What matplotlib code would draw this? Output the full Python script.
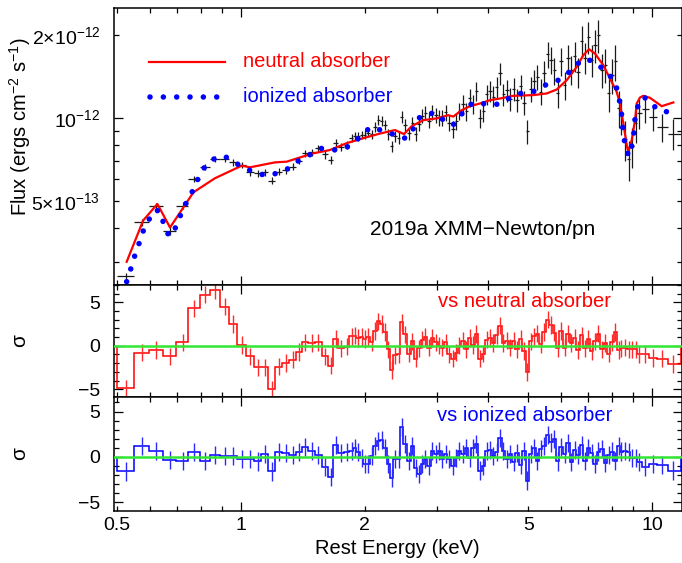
import numpy as np
import matplotlib
matplotlib.use("Agg")
import matplotlib.pyplot as plt
from matplotlib.ticker import LogLocator, MultipleLocator, FuncFormatter

plt.rcParams["font.family"] = ["Liberation Sans", "DejaVu Sans"]
plt.rcParams["mathtext.fontset"] = "custom"
plt.rcParams["mathtext.rm"] = "Liberation Sans"
plt.rcParams["mathtext.it"] = "Liberation Sans:italic"
plt.rcParams["mathtext.bf"] = "Liberation Sans:bold"

# spectrum bins (keV), fluxes in units of 1e-13 erg cm^-2 s^-1
energy = [0.525, 0.575, 0.622, 0.672, 0.721, 0.768, 0.818, 0.866, 0.913, 0.958,
          1.003, 1.052, 1.099, 1.143, 1.187, 1.236, 1.287, 1.336, 1.383, 1.431,
          1.486, 1.543, 1.601, 1.654, 1.701, 1.749, 1.808,
          1.86, 1.89, 1.93, 1.97, 2.00, 2.04, 2.08, 2.12, 2.16, 2.20,
          2.24, 2.28, 2.33, 2.37, 2.42, 2.46, 2.51, 2.56, 2.61, 2.66,
          2.71, 2.76, 2.81, 2.87, 2.92, 2.98, 3.04, 3.09, 3.15, 3.21,
          3.28, 3.34, 3.40, 3.47, 3.53, 3.60, 3.67, 3.74, 3.81, 3.89,
          3.96, 4.04, 4.11, 4.19, 4.27, 4.35, 4.44, 4.52, 4.61, 4.70,
          4.79, 4.88, 4.97, 5.07, 5.16, 5.26, 5.36, 5.47, 5.57, 5.68,
          5.79, 5.90, 6.01, 6.13, 6.24, 6.36, 6.49, 6.61, 6.74, 6.87,
          7.00, 7.13, 7.27, 7.41, 7.55, 7.70, 7.84, 7.99, 8.15, 8.30,
          8.43, 8.60, 8.77, 8.94, 9.12, 9.32, 9.62, 10.06, 10.55, 11.28]

flux = [2.68, 4.19, 4.81, 3.90, 4.81, 6.00, 6.63, 7.10, 7.10, 6.91,
        6.76, 6.36, 6.30, 6.36, 5.93, 6.39, 6.48, 6.66, 7.00, 7.45,
        7.51, 7.77, 7.38, 7.05, 8.10, 7.87, 8.00,
        8.49, 8.58, 8.58, 8.68, 8.72, 8.86, 8.74, 9.32, 9.83, 9.79,
        9.47, 8.74, 7.89, 8.61, 8.50, 10.10, 9.46, 8.80, 9.61, 8.77,
        9.51, 10.20, 10.47, 9.80, 10.53, 10.23, 10.04, 10.00, 10.49, 9.59,
        9.10, 9.77, 10.60, 11.28, 10.59, 11.83, 11.24, 12.51, 10.00, 10.60,
        12.22, 12.58, 11.98, 13.02, 14.56, 12.19, 12.61, 11.77, 12.76, 11.61,
        13.08, 11.38, 8.96, 12.76, 13.59, 14.08, 12.49, 14.59, 17.06, 16.28,
        14.89, 12.35, 16.06, 13.19, 16.47, 14.96, 16.78, 14.74, 19.10, 16.54,
        19.71, 16.28, 18.42, 20.00, 14.95, 15.57, 12.34, 14.32, 16.06, 10.87,
        10.22, 8.39, 7.10, 7.92, 9.59, 10.43, 10.78, 10.08, 9.28, 8.79]

flux_err = [0.07, 0.12, 0.13, 0.12, 0.14, 0.15, 0.16, 0.17, 0.18, 0.18,
            0.18, 0.17, 0.17, 0.17, 0.17, 0.18, 0.19, 0.20, 0.21, 0.23,
            0.24, 0.25, 0.26, 0.26, 0.28, 0.28, 0.28,
            0.28, 0.29, 0.29, 0.29, 0.33, 0.33, 0.33, 0.39, 0.41, 0.41,
            0.39, 0.40, 0.36, 0.39, 0.43, 0.51, 0.47, 0.44, 0.52, 0.48,
            0.52, 0.60, 0.61, 0.57, 0.66, 0.64, 0.67, 0.67, 0.70, 0.64,
            0.65, 0.69, 0.75, 0.85, 0.79, 0.89, 0.89, 0.99, 0.83, 0.88,
            1.02, 1.10, 1.05, 1.14, 1.34, 1.12, 1.16, 1.13, 1.22, 1.11,
            1.31, 1.14, 0.90, 1.33, 1.42, 1.47, 1.35, 1.58, 1.85, 1.83,
            1.68, 1.44, 1.88, 1.54, 1.99, 1.81, 2.10, 1.84, 2.47, 2.14,
            2.63, 2.17, 2.53, 2.75, 2.12, 2.21, 1.80, 2.09, 2.41, 1.63,
            1.53, 1.40, 1.18, 1.32, 1.44, 1.30, 1.17, 1.09, 1.08, 1.10]

# residuals (sigma)
res_neutral = [-4.9, -0.8, -0.5, -1.2, 0.4, 4.3, 5.9, 6.4, 4.5, 2.5,
               0.1, -1.2, -2.5, -2.5, -5.0, -2.4, -2.0, -1.6, -0.7, 0.4,
               0.3, 0.4, -1.2, -2.3, 0.8, -0.3, -0.1,
               1.1, 1.15, 0.9, 1.0, 0.8, 1.0, 0.4, 1.7, 2.8, 2.5,
               1.6, -0.4, -2.8, -1.1, -1.0, 2.7, 1.3, -0.9, 0.5, -1.5,
               -0.3, 0.7, 1.0, -0.2, 0.9, 0.4, 0.0, -0.2, 0.4, -1.0,
               -1.5, -0.8, 0.0, 0.6, -0.4, 0.9, 0.1, 1.35, -1.5, -0.9,
               0.7, 0.9, 0.3, 1.2, 2.3, 0.3, 0.6, -0.2, 0.6, -0.4,
               0.8, -0.6, -3.0, 0.5, 1.1, 1.4, 0.2, 1.6, 3.0, 2.4,
               1.5, -0.3, 1.7, -0.2, 1.4, 0.3, 0.9, -0.5, 1.2, -0.3,
               0.8, -0.6, 0.5, 1.4, -0.4, 0.3, -0.9, 0.4, 1.6, -0.5,
               -0.3, -0.2, -0.4, -0.4, -0.4, -1.0, -1.0, -1.4, -1.5, -2.1]

res_ionized = [-1.6, 1.2, 0.7, -0.3, -0.4, 0.55, -0.4, 0.25, 0.1, 0.1,
               -0.2, -0.2, -0.5, 0.35, -1.6, 0.55, 0.4, 0.2, 0.5, 1.1,
               0.7, 0.25, -1.1, -2.2, 1.3, 0.4, 0.5,
               0.65, 1.0, 0.5, -0.1, -0.8, -0.8, 0.1, 1.2, 1.75, 1.9,
               1.0, -0.8, -2.3, -0.25, -0.25, 3.3, 1.4, -0.45, 1.2, -1.2,
               -1.9, -0.8, -0.25, -1.0, 0.65, 0.3, 0.65, -0.25, 0.3, -0.25,
               -1.0, -0.1, 0.65, 0.3, 1.0, -0.1, 1.0, 1.4, -1.5, -1.0,
               0.65, 0.8, 0.1, 0.5, 2.1, 0.65, -0.25, 0.3, -0.6, 0.4,
               -0.9, 0.7, -2.6, 0.3, 1.0, -0.4, 0.9, 1.2, 2.4, 1.6,
               2.0, -0.5, 1.1, 0.3, 1.5, -0.6, 0.8, 0.2, 1.3, -0.4,
               1.0, 0.4, -0.8, 0.6, 0.9, -0.7, 0.2, 0.6, -0.4, 1.2,
               0.6, 0.65, 0.5, -0.1, -0.1, -0.6, -1.1, -0.8, -0.9, -1.5]

# model curves
neutral_e = [0.527, 0.578, 0.626, 0.672, 0.766, 0.864, 1.004, 1.052, 1.210, 1.292,
             1.392, 1.499, 1.646, 1.807, 1.984, 2.179, 2.370, 2.492, 2.602, 2.777,
             2.994, 3.194, 3.285, 3.443, 3.608, 3.815, 4.035, 4.267, 4.598, 5.143,
             5.543, 5.864, 6.202, 6.559, 6.806, 7.027, 7.267, 7.612, 7.979, 8.206,
             8.359, 8.517, 8.709, 8.757, 8.926, 9.093, 9.180, 9.350, 9.524, 9.888,
             10.56, 11.27]
neutral_f = [3.01, 4.25, 4.88, 4.01, 5.38, 6.05, 6.72, 6.63, 6.91, 6.95,
             7.20, 7.45, 7.66, 8.11, 8.46, 8.79, 9.05, 8.75, 9.35, 9.83,
             9.98, 10.25, 10.13, 10.69, 11.05, 11.30, 11.62, 11.78, 12.05, 12.12,
             12.29, 12.70, 13.73, 15.34, 16.92, 17.78, 17.15, 15.56, 13.54, 12.45,
             11.30, 9.57, 7.77, 7.55, 8.32, 9.83, 11.30, 11.88, 12.05, 11.85,
             11.05, 11.40]

ionized_e = [0.527, 0.539, 0.550, 0.563, 0.574, 0.593, 0.612, 0.633, 0.647, 0.665,
             0.680, 0.697, 0.717, 0.738, 0.763, 0.785, 0.813, 0.853, 0.909, 0.963,
             1.026, 1.092, 1.165, 1.244, 1.323, 1.379, 1.478, 1.563, 1.677, 1.774,
             1.870, 1.966, 2.068, 2.199, 2.348, 2.474, 2.545, 2.615, 2.677, 2.818,
             2.928, 3.038, 3.166, 3.285, 3.443, 3.594, 3.746, 3.851, 4.074, 4.308,
             4.532, 4.836, 5.172, 5.493, 5.864, 6.202, 6.497, 6.843, 7.267, 7.686,
             8.052, 8.253, 8.359, 8.440, 8.487, 8.563, 8.678, 8.806, 8.954, 9.040,
             9.093, 9.210, 9.524, 9.888, 10.32, 10.90]
ionized_f = [2.55, 2.83, 3.13, 3.45, 3.81, 4.19, 4.61, 4.62, 4.19, 3.79,
             3.74, 4.10, 4.54, 4.97, 5.45, 6.00, 6.59, 7.08, 7.30, 6.91,
             6.57, 6.30, 6.18, 6.36, 6.63, 7.00, 7.39, 7.77, 7.66, 7.72,
             8.06, 8.68, 9.28, 9.03, 8.73, 8.44, 8.51, 9.01, 9.89, 10.40,
             10.40, 9.89, 9.93, 9.47, 10.34, 11.15, 11.45, 11.31, 11.15, 11.31,
             11.94, 12.35, 12.52, 13.17, 13.62, 14.40, 15.47, 16.45, 15.99, 14.84,
             13.85, 12.56, 11.31, 10.25, 9.22, 8.32, 7.55, 7.28, 8.05, 8.88,
             9.97, 10.93, 11.94, 11.55, 10.69, 10.54]

unit = 1e-13
e = np.array(energy)
edges = np.concatenate([[0.50], np.sqrt(e[:-1] * e[1:]), [11.75]])
xerr = [e - edges[:-1], edges[1:] - e]

fig = plt.figure(figsize=(6.82, 5.63), dpi=100)
ax1 = fig.add_axes([0.1672, 0.4938, 0.8321, 0.4920])
ax2 = fig.add_axes([0.1672, 0.2948, 0.8321, 0.1990], sharex=ax1)
ax3 = fig.add_axes([0.1672, 0.0924, 0.8321, 0.2024], sharex=ax1)

dots = (0, (0.001, 2.4))

# top: spectrum and models
ax1.errorbar(e, np.array(flux) * unit, xerr=xerr, yerr=np.array(flux_err) * unit,
             fmt="none", ecolor="#1a1a1a", elinewidth=0.9, capsize=0, zorder=2)
ax1.plot(neutral_e, np.array(neutral_f) * unit, color="red", lw=1.6, zorder=3)
ax1.plot(ionized_e, np.array(ionized_f) * unit, color="blue", lw=4.0,
         linestyle=dots, dash_capstyle="round", zorder=4)
ax1.set_yscale("log")
ax1.set_ylim(2.48e-13, 2.51e-12)

# legend drawn by hand
ax1.plot([0.0616, 0.1954], [0.806, 0.806], transform=ax1.transAxes, color="red", lw=1.6)
ax1.plot([0.0634, 0.1870], [0.680, 0.680], transform=ax1.transAxes, color="blue", lw=4.0,
         linestyle=dots, dash_capstyle="round")
ax1.text(0.2266, 0.806, "neutral absorber", color="red", fontsize=14.5,
         va="center", ha="left", transform=ax1.transAxes)
ax1.text(0.2266, 0.680, "ionized absorber", color="blue", fontsize=14.5,
         va="center", ha="left", transform=ax1.transAxes)
ax1.text(0.649, 0.202, "2019a XMM\u2212Newton/pn", fontsize=15,
         va="center", ha="center", transform=ax1.transAxes)

# residual panels
green = "#33e633"
ax2.stairs(res_neutral, edges, color="red", lw=1.1, zorder=2)
ax2.errorbar(e, res_neutral, yerr=1.0, fmt="none", ecolor="#ff2a2a",
             elinewidth=1.0, capsize=0, zorder=2)
ax2.axhline(0, color=green, lw=1.8, zorder=5)
ax2.set_ylim(-5.9, 7.0)
ax2.text(0.7236, 0.857, "vs neutral absorber", color="red", fontsize=14.5,
         ha="center", va="center", transform=ax2.transAxes)

ax3.stairs(res_ionized, edges, color="blue", lw=1.1, zorder=2)
ax3.errorbar(e, res_ionized, yerr=1.0, fmt="none", ecolor="#2a2aff",
             elinewidth=1.0, capsize=0, zorder=2)
ax3.axhline(0, color=green, lw=1.8, zorder=5)
ax3.set_ylim(-5.95, 6.6)
ax3.text(0.7236, 0.842, "vs ionized absorber", color="blue", fontsize=14.5,
         ha="center", va="center", transform=ax3.transAxes)

# axes styling
ax1.set_xscale("log")
ax1.set_xlim(0.491, 11.8)
ax1.xaxis.set_major_locator(LogLocator(base=10, numticks=20))
ax1.xaxis.set_minor_locator(LogLocator(base=10, subs=np.arange(2, 10), numticks=20))
xlab = {0.5: "0.5", 1: "1", 2: "2", 5: "5", 10: "10"}


def xfmt(v, pos):
    for k, s in xlab.items():
        if np.isclose(v, k):
            return s
    return ""


ax1.xaxis.set_major_formatter(FuncFormatter(xfmt))
ax1.xaxis.set_minor_formatter(FuncFormatter(xfmt))

ylab = {1e-12: r"$10^{-12}$", 2e-12: r"$2{\times}10^{-12}$", 5e-13: r"$5{\times}10^{-13}$"}


def yfmt(v, pos):
    for k, s in ylab.items():
        if np.isclose(v, k, rtol=1e-3, atol=0):
            return s
    return ""


ax1.yaxis.set_major_locator(LogLocator(base=10, numticks=20))
ax1.yaxis.set_minor_locator(LogLocator(base=10, subs=np.arange(2, 10), numticks=20))
ax1.yaxis.set_major_formatter(FuncFormatter(yfmt))
ax1.yaxis.set_minor_formatter(FuncFormatter(yfmt))

for ax in (ax2, ax3):
    ax.yaxis.set_major_locator(MultipleLocator(5))
    ax.yaxis.set_minor_locator(MultipleLocator(1))

for ax in (ax1, ax2, ax3):
    ax.tick_params(which="both", direction="in", top=True, right=True,
                   width=0.9, labelsize=14)
    ax.tick_params(which="major", length=6.5)
    ax.tick_params(which="minor", length=3.6)
    ax.tick_params(axis="y", which="both", pad=10)
    ax.tick_params(axis="x", which="both", pad=4)
    for sp in ax.spines.values():
        sp.set_linewidth(1.1)

ax1.tick_params(labelbottom=False, which="both")
ax2.tick_params(labelbottom=False, which="both")

ax1.set_ylabel(r"Flux (ergs cm$^{-2}$ s$^{-1}$)", fontsize=14.5)
ax1.yaxis.set_label_coords(-0.143, 0.57)
ax2.set_ylabel("\u03c3", fontsize=15)
ax2.yaxis.set_label_coords(-0.15, 0.5)
ax3.set_ylabel("\u03c3", fontsize=15)
ax3.yaxis.set_label_coords(-0.15, 0.5)
ax3.set_xlabel("Rest Energy (keV)", fontsize=14.5, labelpad=4)

fig.savefig("out.png", dpi=100)
